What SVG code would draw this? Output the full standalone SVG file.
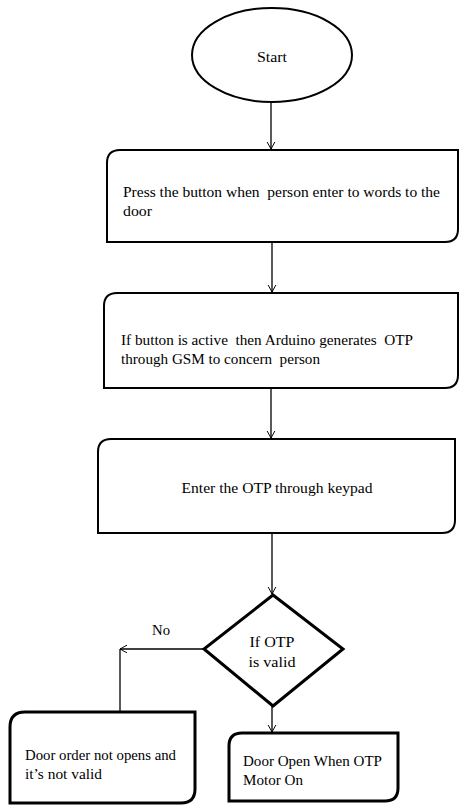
<svg xmlns="http://www.w3.org/2000/svg" width="460" height="805" viewBox="0 0 460 805">
<defs>
<style>
.shape{fill:#fff;stroke:#000;stroke-width:2}
.thick{stroke-width:3}
.t{font-family:"Liberation Serif","Times New Roman",serif;font-size:14.5px;fill:#000;white-space:pre}
.c{text-anchor:middle}
.con{fill:none;stroke:#000;stroke-width:1.3}
</style>
<marker id="arr" viewBox="0 0 10 12" refX="10" refY="6" markerWidth="7" markerHeight="10" markerUnits="userSpaceOnUse" orient="auto">
<path d="M0,0.5 L10,6 L0,11.5" fill="none" stroke="#000" stroke-width="1.4"/>
</marker>
</defs>
<rect width="460" height="805" fill="#fff"/>
<g id="connectors">
<path class="con" d="M271,102 V149" marker-end="url(#arr)"/>
<path class="con" d="M272,242 V292" marker-end="url(#arr)"/>
<path class="con" d="M271,388 V438" marker-end="url(#arr)"/>
<path class="con" d="M272,533 V594" marker-end="url(#arr)"/>
<path class="con" d="M204,649 H120" marker-end="url(#arr)"/>
<path class="con" d="M120,649 V712"/>
<path class="con" d="M272,706 V732" marker-end="url(#arr)"/>
<text class="t c" x="161" y="635" textLength="18" lengthAdjust="spacingAndGlyphs">No</text>
</g>
<g id="start">
<ellipse class="shape" cx="272" cy="55" rx="80" ry="47"/>
<text class="t c" x="272" y="62" textLength="30" lengthAdjust="spacingAndGlyphs">Start</text>
</g>
<g id="press">
<path class="shape" d="M107,163 Q107,150 120,150 H458 V229 Q458,242 445,242 H107 Z"/>
<text class="t" x="123" y="197" textLength="317" lengthAdjust="spacingAndGlyphs">Press the button when  person enter to words to the</text>
<text class="t" x="123" y="216" textLength="29" lengthAdjust="spacingAndGlyphs">door</text>
</g>
<g id="generate">
<path class="shape" d="M104,306 Q104,293 117,293 H458 V375 Q458,388 445,388 H104 Z"/>
<text class="t" x="121" y="345" textLength="292" lengthAdjust="spacingAndGlyphs">If button is active  then Arduino generates  OTP</text>
<text class="t" x="121" y="364" textLength="199" lengthAdjust="spacingAndGlyphs">through GSM to concern  person</text>
</g>
<g id="enter">
<path class="shape" d="M98,452 Q98,439 111,439 H455 V520 Q455,533 442,533 H98 Z"/>
<text class="t c" x="277" y="493" textLength="191" lengthAdjust="spacingAndGlyphs">Enter the OTP through keypad</text>
</g>
<g id="decision">
<path class="shape thick" d="M273,595 L343,649 L273,706 L204,649 Z"/>
<text class="t c" x="272" y="647" textLength="45" lengthAdjust="spacingAndGlyphs">If OTP</text>
<text class="t c" x="272" y="667" textLength="47" lengthAdjust="spacingAndGlyphs">is valid</text>
</g>
<g id="invalid">
<path class="shape thick" d="M10,727 Q10,712 25,712 H195 V789 Q195,803 181,803 H10 Z"/>
<text class="t" x="25" y="760" textLength="151" lengthAdjust="spacingAndGlyphs">Door order not opens and</text>
<text class="t" x="25" y="779" textLength="77" lengthAdjust="spacingAndGlyphs">it’s not valid</text>
</g>
<g id="open">
<path class="shape thick" d="M229,746 Q229,733 242,733 H398 V788 Q398,801 385,801 H229 Z"/>
<text class="t" x="243" y="766" textLength="139" lengthAdjust="spacingAndGlyphs">Door Open When OTP</text>
<text class="t" x="243" y="785" textLength="60" lengthAdjust="spacingAndGlyphs">Motor On</text>
</g>
</svg>
